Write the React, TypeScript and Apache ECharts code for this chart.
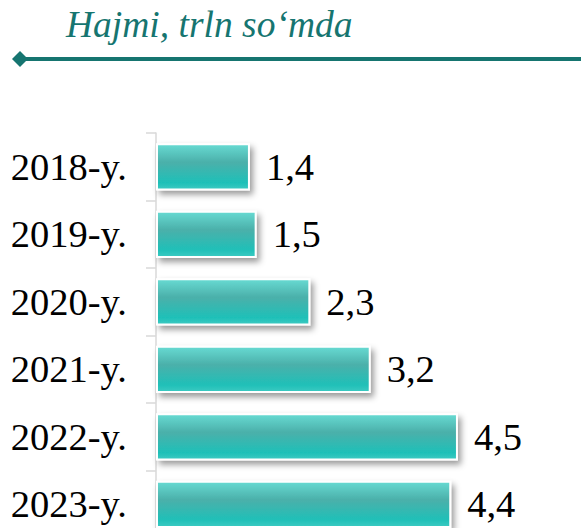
import React, { useEffect, useRef } from "react";
import * as echarts from "echarts";

const categories = ["2018-y.", "2019-y.", "2020-y.", "2021-y.", "2022-y.", "2023-y."];
const values = [1.4, 1.5, 2.3, 3.2, 4.5, 4.4];
const titleText = "Hajmi, trln so\u2018mda";

const SERIF = '"Liberation Serif", "Times New Roman", serif';
const TEAL = "#167570";

export default function App() {
  const ref = useRef<HTMLDivElement>(null);
  useEffect(() => {
    if (!ref.current) return;
    const chart = echarts.init(ref.current, null, { renderer: "svg" });
    chart.setOption({
      animation: false,
      backgroundColor: "#ffffff",
      grid: {
        left: 156,
        top: 133,
        height: 405,
        width: 402.6,
        containLabel: false,
        outerBoundsMode: "none",
      },
      xAxis: {
        type: "value",
        min: 0,
        max: 6,
        show: false,
      },
      yAxis: {
        type: "category",
        data: categories,
        inverse: true,
        axisLine: { show: true, lineStyle: { color: "#d9d9d9", width: 1.5 } },
        axisTick: { show: true, length: 10, lineStyle: { color: "#d9d9d9", width: 1.5 } },
        axisLabel: {
          margin: 29,
          fontFamily: SERIF,
          fontSize: 38.5,
          color: "#000000",
        },
      },
      series: [
        {
          type: "bar",
          data: values,
          barWidth: "70%",
          itemStyle: {
            color: new echarts.graphic.LinearGradient(0, 0, 0, 1, [
              { offset: 0, color: "#68dbd3" },
              { offset: 0.4, color: "#4bb0aa" },
              { offset: 0.85, color: "#1fc0b8" },
              { offset: 1, color: "#3ccac2" },
            ]),
            borderColor: "#ffffff",
            borderWidth: 2,
            shadowColor: "rgba(0,0,0,0.4)",
            shadowBlur: 6,
            shadowOffsetX: 3,
            shadowOffsetY: 4,
          },
          label: {
            show: true,
            position: "right",
            distance: 16,
            fontFamily: SERIF,
            fontSize: 38.5,
            color: "#000000",
            formatter: (p: any) => String(p.value).replace(".", ","),
          },
        },
      ],
      graphic: [
        {
          type: "text",
          left: 66,
          top: 5,
          style: {
            text: titleText,
            fontFamily: SERIF,
            fontStyle: "italic",
            fontSize: 37.5,
            fill: TEAL,
          },
        },
        {
          type: "line",
          shape: { x1: 26, y1: 59, x2: 581, y2: 59 },
          style: { stroke: TEAL, lineWidth: 4 },
        },
        {
          type: "polygon",
          shape: { points: [[12, 59], [20, 51], [28, 59], [20, 67]] },
          style: { fill: TEAL },
        },
      ],
    });
    return () => chart.dispose();
  }, []);
  return (
    <div
      ref={ref}
      style={{ position: "absolute", left: 0, top: 0, width: 581, height: 528 }}
    />
  );
}
